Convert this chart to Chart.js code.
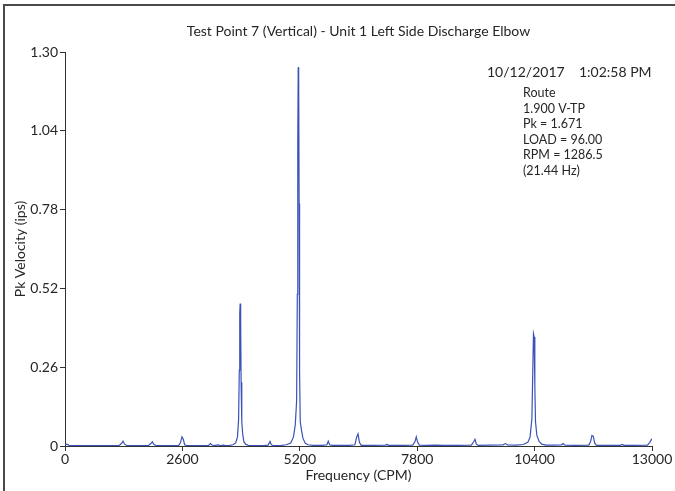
<!DOCTYPE html>
<html>
<head>
<meta charset="utf-8">
<script src="https://cdn.jsdelivr.net/npm/chart.js@4/dist/chart.umd.min.js"></script>
<style>
  html, body { margin: 0; padding: 0; background: #fff; }
  #wrap { position: relative; width: 675px; height: 491px; }
</style>
</head>
<body>
<div id="wrap"><canvas id="spectrum" width="675" height="491"></canvas></div>
<script>
// Spectrum data (frequency in CPM, amplitude in ips)
const freqs = [
  0, 40, 90, 200, 400, 700, 1000, 1200, 1250, 1285, 1320, 1380, 1600, 1850, 1900, 1935, 1970, 2030,
  2300, 2520, 2560, 2590, 2620, 2650, 2700, 3000, 3180, 3220, 3250, 3300, 3400, 3430, 3520, 3550,
  3650, 3720, 3780, 3820, 3845, 3860, 3870, 3880, 3890, 3900, 3915, 3935, 3960, 4000, 4060, 4200,
  4400, 4500, 4540, 4570, 4620, 4800, 4900, 5000, 5060, 5100, 5130, 5145, 5155, 5165, 5175, 5185,
  5195, 5210, 5240, 5270, 5320, 5380, 5500, 5700, 5800, 5830, 5860, 5920, 6100, 6300, 6420, 6460,
  6490, 6520, 6560, 6800, 7100, 7130, 7160, 7500, 7700, 7750, 7780, 7810, 7850, 8000, 8200, 8400,
  8700, 9000, 9050, 9080, 9110, 9150, 9400, 9700, 9750, 9800, 10000, 10150, 10250, 10300, 10340,
  10360, 10375, 10390, 10405, 10420, 10450, 10500, 10560, 10650, 10800, 11000, 11030, 11070, 11300,
  11600, 11640, 11670, 11700, 11730, 11770, 12000, 12300, 12340, 12380, 12600, 12900, 12950, 12990, 13000
];
const amps = [
  0.004, 0.006, 0.002, 0.001, 0.001, 0.001, 0.001, 0.002, 0.008, 0.016, 0.006, 0.001, 0.001, 0.002, 0.008, 0.014, 0.005, 0.001,
  0.001, 0.002, 0.012, 0.030, 0.022, 0.004, 0.001, 0.001, 0.002, 0.008, 0.004, 0.001, 0.004, 0.001, 0.003, 0.001,
  0.002, 0.004, 0.010, 0.030, 0.090, 0.250, 0.440, 0.470, 0.420, 0.210, 0.080, 0.040, 0.015, 0.006, 0.002, 0.001,
  0.001, 0.003, 0.015, 0.004, 0.001, 0.002, 0.004, 0.010, 0.030, 0.070, 0.150, 0.500, 1.000, 1.250, 1.220, 0.800,
  0.250, 0.080, 0.050, 0.025, 0.010, 0.004, 0.002, 0.002, 0.004, 0.016, 0.004, 0.002, 0.002, 0.002, 0.004, 0.030,
  0.040, 0.012, 0.002, 0.002, 0.003, 0.006, 0.002, 0.002, 0.003, 0.014, 0.030, 0.012, 0.003, 0.002, 0.003, 0.002,
  0.002, 0.003, 0.014, 0.022, 0.006, 0.002, 0.003, 0.004, 0.008, 0.004, 0.003, 0.005, 0.012, 0.030, 0.090,
  0.250, 0.370, 0.360, 0.200, 0.080, 0.035, 0.015, 0.006, 0.003, 0.003, 0.004, 0.008, 0.003, 0.002,
  0.003, 0.015, 0.035, 0.032, 0.010, 0.002, 0.002, 0.002, 0.005, 0.002, 0.002, 0.003, 0.012, 0.022, 0.020
];
const xTicks = [0, 2600, 5200, 7800, 10400, 13000];
const yTicks = [0, 0.26, 0.52, 0.78, 1.04, 1.30];
const titleText = 'Test Point 7 (Vertical) - Unit 1 Left Side Discharge Elbow';
const stampDate = '10/12/2017';
const stampTime = '1:02:58 PM';
const infoLines = ['Route', '1.900 V-TP', 'Pk = 1.671', 'LOAD = 96.00', 'RPM = 1286.5', '(21.44 Hz)'];

const FONT = 'Lato, "Open Sans", sans-serif';
const TEXT = '#262626';

// Draws the title over the plot area, the header stamp, info block and the outer frame
const notesPlugin = {
  id: 'notes',
  afterDraw(chart) {
    const ctx = chart.ctx;
    const area = chart.chartArea;
    ctx.save();
    ctx.fillStyle = TEXT;
    ctx.textBaseline = 'middle';
    ctx.textAlign = 'center';
    ctx.font = '14px ' + FONT;
    ctx.fillText(titleText, (area.left + area.right) / 2, 31);
    ctx.textAlign = 'left';
    ctx.fillText(stampDate, 487, 72);
    ctx.fillText(stampTime, 579, 72);
    ctx.font = '12.5px ' + FONT;
    infoLines.forEach((line, i) => {
      ctx.fillText(line, 523, 93 + i * 15.6);
    });
    // outer frame
    ctx.strokeStyle = '#4a4a4a';
    ctx.lineWidth = 2;
    ctx.beginPath();
    ctx.moveTo(4, 495);
    ctx.lineTo(4, 5);
    ctx.lineTo(680, 5);
    ctx.stroke();
    ctx.restore();
  }
};

const ctx = document.getElementById('spectrum').getContext('2d');
new Chart(ctx, {
  type: 'line',
  data: {
    datasets: [{
      data: freqs.map((f, i) => ({ x: f, y: amps[i] })),
      borderColor: '#3a52b8',
      borderWidth: 1.2,
      pointRadius: 0,
      tension: 0,
      fill: false
    }]
  },
  options: {
    responsive: false,
    animation: false,
    layout: { padding: { top: 52, right: 23, bottom: 0, left: 0 } },
    plugins: {
      legend: { display: false },
      tooltip: { enabled: false },
      title: { display: false }
    },
    scales: {
      x: {
        type: 'linear',
        min: 0,
        max: 13000,
        afterBuildTicks: axis => { axis.ticks = xTicks.map(v => ({ value: v })); },
        afterFit: axis => { axis.height = 45; },
        grid: { drawOnChartArea: false, drawTicks: true, tickLength: 5, color: '#333' },
        border: { color: '#333', width: 1 },
        ticks: {
          color: TEXT,
          font: { family: FONT, size: 14 },
          padding: 0,
          maxRotation: 0,
          callback: v => String(v)
        },
        title: { display: true, text: 'Frequency (CPM)', color: TEXT, font: { family: FONT, size: 14 }, padding: { top: 0, bottom: 7 } }
      },
      y: {
        min: 0,
        max: 1.30,
        afterBuildTicks: axis => { axis.ticks = yTicks.map(v => ({ value: v })); },
        afterFit: axis => { axis.width = 65; },
        grid: { drawOnChartArea: false, drawTicks: true, tickLength: 5, color: '#333' },
        border: { color: '#333', width: 1 },
        ticks: {
          color: TEXT,
          font: { family: FONT, size: 14 },
          padding: 2,
          callback: v => (v === 0 ? '0' : v.toFixed(2))
        },
        title: { display: true, text: 'Pk Velocity (ips)', color: TEXT, font: { family: FONT, size: 14 }, padding: { top: 12, bottom: 2 } }
      }
    }
  },
  plugins: [notesPlugin]
});
</script>
</body>
</html>
